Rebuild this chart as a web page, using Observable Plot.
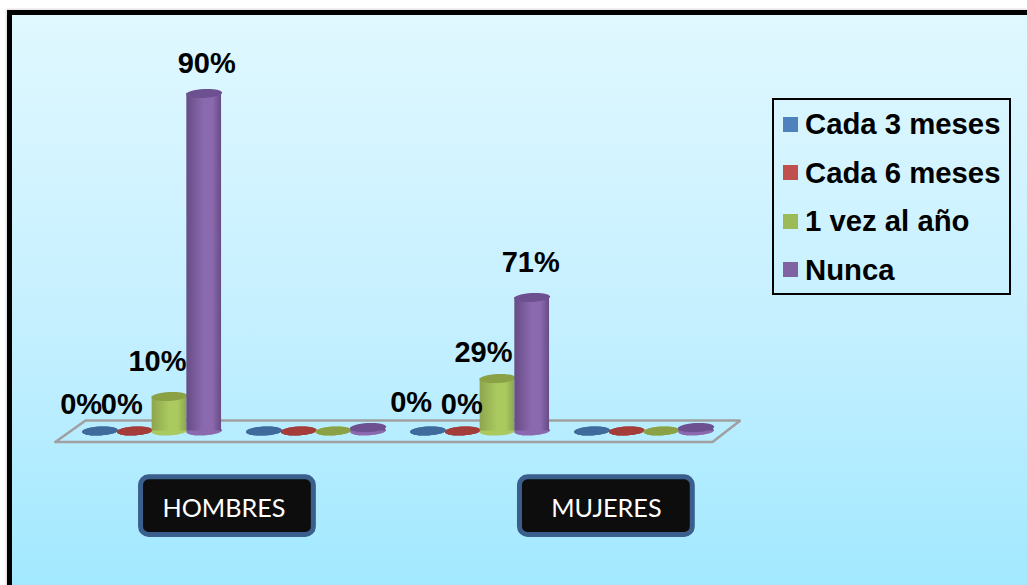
<!DOCTYPE html>
<html lang="es">
<head>
<meta charset="utf-8">
<title>Frecuencia por sexo</title>
<script src="https://cdn.jsdelivr.net/npm/d3@7"></script>
<script src="https://cdn.jsdelivr.net/npm/@observablehq/plot@0.6"></script>
<style>
  html, body { margin: 0; background: #fff; overflow: hidden; }
  #page { position: relative; width: 1027px; height: 585px; overflow: hidden; }
  #panel {
    position: absolute; left: 7px; top: 10px; width: 1040px; height: 600px;
    border-left: 5px solid #000; border-top: 5px solid #000;
    box-shadow: -1px -1px 2px rgba(0,0,0,.15);
    background: linear-gradient(180deg, #e0f8ff 0%, #c6f0ff 50%, #9ee8ff 100%);
  }
  #chart { position: absolute; left: 0; top: 0; }
  #legend {
    position: absolute; left: 772px; top: 98px; width: 235px; height: 193px;
    border: 2px solid #000;
    font: bold 29.3px "Liberation Sans", Arial, sans-serif; color: #000;
  }
  #legend .row { position: absolute; left: 0; display: flex; align-items: center; height: 30px; white-space: nowrap; }
  #legend .swatch { width: 15px; height: 15px; margin: 0 7px 0 9px; }
</style>
</head>
<body>
<div id="page">
  <div id="panel"></div>
  <div id="chart"></div>
  <div id="legend"></div>
</div>
<script>
// Survey answers, in percent, one entry per cluster of cylinders.
const clusters = ["HOMBRES", "HOMBRES (2)", "MUJERES", "MUJERES (2)"];
const seriesNames = ["Cada 3 meses", "Cada 6 meses", "1 vez al año", "Nunca"];
const cada3Meses = [0, 0, 0, 0];
const cada6Meses = [0, 0, 0, 0];
const vezAlAno = [10, 0, 29, 0];
const nunca = [90, 1, 71, 1];
const seriesValues = [cada3Meses, cada6Meses, vezAlAno, nunca];
const labelledClusters = [0, 2];

const categoryLabels = ["HOMBRES", "MUJERES"];

// Palette: swatch, cylinder edge, cylinder centre, lid.
const swatchColors = ["#4f81bd", "#c0504d", "#9bbb59", "#8064a2"];
const edgeColors = ["#3d6696", "#9c3a38", "#8ea54e", "#664c85"];
const centerColors = ["#4a78ad", "#b54845", "#aac95f", "#8b69ae"];
const lidColors = ["#3f6a9c", "#a43d3a", "#8aa145", "#6d5090"];

// Horizontal layout, in slots of one cylinder width.
const clusterStep = 4.726;
const slotPx = 34.7;
const firstSlotPx = 99.6;
const slot = (c, s) => c * clusterStep + s;

// Cylinder heights follow the scale's breakpoints at each stated percentage.
const yDomain = [-44, 0, 10, 29, 71, 90, 115];
const yRange = [585, 430.5, 396, 378, 297, 93, 0];

const rows = seriesValues.flatMap((values, s) =>
  values.map((value, c) => ({cluster: clusters[c], c, s, series: seriesNames[s], value, pos: slot(c, s)}))
);

// Offsets that keep the percentage labels clear of each other.
const labelOffsets = {
  "0-0": [-19, 0], "0-1": [-13, 0], "0-2": [-12, 0], "0-3": [2.5, 0],
  "2-0": [-17, -2], "2-1": [-1, 0], "2-2": [-14, 0], "2-3": [-1.5, 0]
};
const labelGap = {"0-0": -26.5, "0-1": -26.5, "0-2": -35, "0-3": -30,
                  "2-0": -28.5, "2-1": -26.5, "2-2": -26, "2-3": -35};

// The slanted plane the cylinders stand on.
const floorCorners = [
  {pos: -1.29, level: -3.13}, {pos: 17.65, level: -3.13}, {pos: 18.45, level: 3.04},
  {pos: -0.42, level: 3.04}, {pos: -1.29, level: -3.13}
];

const boxes = [
  {name: categoryLabels[0], center: 3.67, textShift: -3.5},
  {name: categoryLabels[1], center: 14.59, textShift: 0}
];

// Flattened, slightly tilted ellipse used for the cylinder ends.
const cylinderEnd = {
  draw(ctx, size) {
    const rx = Math.sqrt(size / Math.PI), ry = rx * 0.25, k = 0.5523, t = -0.05;
    const p = (x, y) => [x * Math.cos(t) - y * Math.sin(t), x * Math.sin(t) + y * Math.cos(t)];
    ctx.moveTo(...p(rx, 0));
    ctx.bezierCurveTo(...p(rx, k * ry), ...p(k * rx, ry), ...p(0, ry));
    ctx.bezierCurveTo(...p(-k * rx, ry), ...p(-rx, k * ry), ...p(-rx, 0));
    ctx.bezierCurveTo(...p(-rx, -k * ry), ...p(-k * rx, -ry), ...p(0, -ry));
    ctx.bezierCurveTo(...p(k * rx, -ry), ...p(rx, -k * ry), ...p(rx, 0));
    ctx.closePath();
  }
};

// Left-to-right shading that gives the cylinders their roundness.
const shading = () => {
  const defs = d3.create("svg:defs");
  seriesNames.forEach((_, i) => {
    const g = defs.append("linearGradient").attr("id", `shade-${i}`).attr("x1", 0).attr("x2", 1).attr("y1", 0).attr("y2", 0);
    [[0, edgeColors[i]], [0.5, centerColors[i]], [0.75, centerColors[i]], [1, edgeColors[i]]].forEach(([o, c]) =>
      g.append("stop").attr("offset", o).attr("stop-color", c));
  });
  return defs.node();
};

const cylinderMarks = seriesNames.flatMap((_, i) => {
  const data = rows.filter((d) => d.s === i);
  const fill = `url(#shade-${i})`;
  return [
    Plot.dot(data, {x: "pos", y: () => 0, r: 18, symbol: cylinderEnd, fill: i >= 2 ? centerColors[i] : lidColors[i], stroke: "none"}),
    Plot.rect(data.filter((d) => d.value > 0), {x1: (d) => d.pos - 0.5, x2: (d) => d.pos + 0.5, y1: () => 0, y2: "value", fill}),
    Plot.dot(data, {x: "pos", y: "value", r: 18, symbol: cylinderEnd, fill: lidColors[i], stroke: "none"})
  ];
});

const labelMarks = rows
  .filter((d) => labelledClusters.includes(d.c))
  .map((d) => {
    const key = `${d.c}-${d.s}`;
    const [dx] = labelOffsets[key];
    return Plot.text([d], {
      x: "pos", y: "value", text: (r) => `${r.value}%`,
      dx, dy: labelGap[key],
      fontFamily: "Liberation Sans", fontSize: 29, fontWeight: "bold", fill: "#000"
    });
  });

const chart = Plot.plot({
  width: 1027,
  height: 585,
  margin: 0,
  style: {background: "transparent", overflow: "visible"},
  x: {type: "linear", axis: null, domain: [-firstSlotPx / slotPx, (1027 - firstSlotPx) / slotPx], range: [0, 1027]},
  y: {type: "linear", axis: null, domain: yDomain, range: yRange},
  marks: [
    shading,
    Plot.line(floorCorners, {x: "pos", y: "level", stroke: "#a0a0a0", strokeWidth: 2.6, strokeLinejoin: "miter"}),
    ...cylinderMarks,
    ...labelMarks,
    Plot.rect(boxes, {
      x1: (d) => d.center - 2.49, x2: (d) => d.center + 2.49, y1: () => -13.2, y2: () => -29.6,
      fill: "#0d0d0d", stroke: "#3a5f8c", strokeWidth: 5, rx: 8
    }),
    ...boxes.map((b) => Plot.text([b], {
      x: "center", y: () => -22.1, text: "name",
      fill: "#fff", fontFamily: "Lato", fontSize: 25.2, dx: b.textShift
    }))
  ]
});
document.getElementById("chart").append(chart);

// Legend box beside the plot.
const legend = d3.select("#legend");
seriesNames.forEach((name, i) => {
  const row = legend.append("div").attr("class", "row").style("top", `${9 + i * 48.5}px`);
  row.append("span").attr("class", "swatch").style("background", swatchColors[i]);
  row.append("span").text(name);
});
</script>
</body>
</html>
